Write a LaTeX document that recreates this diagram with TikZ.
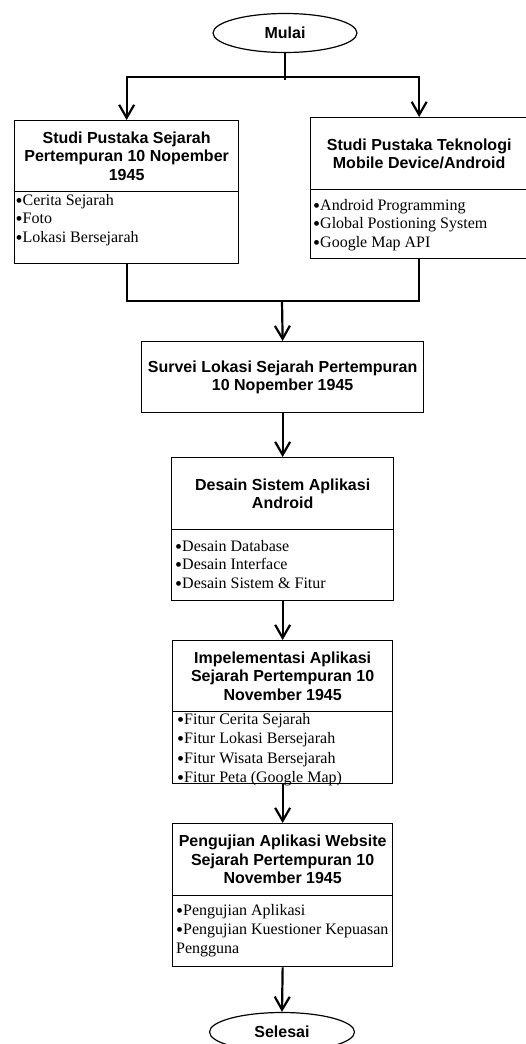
\documentclass[tikz,border=0pt]{standalone}
\usepackage{fontspec}
\usepackage{graphicx}
\setmainfont{Liberation Serif}
\newfontfamily\hdfont{Liberation Sans}
\newcommand\bulmark{\raisebox{-2pt}{\scalebox{1.25}{•}}}
\usetikzlibrary{arrows.meta,shapes.geometric,calc}
\begin{document}
\begin{tikzpicture}[x=1pt,y=-1pt,
  titlebox/.style={draw,line width=1.3pt,anchor=north west,inner sep=0pt,align=center,
    font=\hdfont\bfseries\fontsize{16}{18.4}\selectfont},
  listbox/.style={draw,line width=1.3pt,anchor=north west,inner sep=0pt},
  listtext/.style={anchor=north west,inner sep=0pt,align=left,
    font=\fontsize{16}{18.6}\selectfont},
  listwide/.style={listtext,font=\fontsize{16}{19.1}\selectfont},
  terminal/.style={draw,ellipse,line width=1.2pt,inner sep=0pt,
    font=\hdfont\bfseries\fontsize{16}{18}\selectfont},
  conn/.style={line width=2.2pt},
  arr/.style={conn,-{Straight Barb[length=13pt,width=15pt]}}]
\useasboundingbox (0,0) rectangle (525,1044);

% start
\node[terminal,minimum width=144,minimum height=39] (mulai) at (285,33) {Mulai};

% left column box
\node[titlebox,minimum width=224,minimum height=71] (a1) at (14,120)
  {Studi Pustaka Sejarah\\Pertempuran 10 Nopember\\1945};
\node[listbox,minimum width=224,minimum height=72] (a2) at (14,191) {};
\node[listtext] (a2t) at ($(a2.north west)+(1.5,3)$)
  {\bulmark Cerita Sejarah\\\bulmark Foto\\\bulmark Lokasi Bersejarah};

% right column box
\node[titlebox,minimum width=217,minimum height=72] (b1) at (310,117)
  {Studi Pustaka Teknologi\\Mobile Device/Android};
\node[listbox,minimum width=217,minimum height=69] (b2) at (310,189) {};
\node[listtext] (b2t) at ($(b2.north west)+(3,10)$)
  {\bulmark Android Programming\\\bulmark Global Postioning System\\\bulmark Google Map API};

% survey
\node[titlebox,minimum width=282,minimum height=71] (sv) at (141,341)
  {Survei Lokasi Sejarah Pertempuran\\10 Nopember 1945};

% design
\node[titlebox,minimum width=222,minimum height=72] (d1) at (171,457)
  {Desain Sistem Aplikasi\\Android};
\node[listbox,minimum width=222,minimum height=71] (d2) at (171,529) {};
\node[listtext] (d2t) at ($(d2.north west)+(4,11)$)
  {\bulmark Desain Database\\\bulmark Desain Interface\\\bulmark Desain Sistem \& Fitur};

% implementation
\node[titlebox,minimum width=220,minimum height=71] (i1) at (172,640)
  {Impelementasi Aplikasi\\Sejarah Pertempuran 10\\November 1945};
\node[listbox,minimum width=220,minimum height=72] (i2) at (172,711) {};
\node[listwide] (i2t) at ($(i2.north west)+(5,2.5)$)
  {\bulmark Fitur Cerita Sejarah\\\bulmark Fitur Lokasi Bersejarah\\\bulmark Fitur Wisata Bersejarah\\\bulmark Fitur Peta (Google Map)};

% testing
\node[titlebox,minimum width=220,minimum height=72] (p1) at (172,823)
  {Pengujian Aplikasi Website\\Sejarah Pertempuran 10\\November 1945};
\node[listbox,minimum width=220,minimum height=71] (p2) at (172,895) {};
\node[listwide] (p2t) at ($(p2.north west)+(4,9)$)
  {\bulmark Pengujian Aplikasi\\\bulmark Pengujian Kuestioner Kepuasan\\Pengguna};

% end
\node[terminal,minimum width=145,minimum height=39] (selesai) at (282,1032) {Selesai};

% connectors
\coordinate (j1) at (285,77);
\coordinate (j2) at (282,301);
\draw[conn] (mulai.south) -- ($(j1)+(0,3)$);
\draw[arr] (j1) -| (a1.north);
\draw[arr] (j1) -| (b1.north);
\draw[conn] (a2.south) |- (j2);
\draw[conn] (b2.south) |- (j2);
\draw[arr] (j2) -- (sv.north);
\draw[arr] (sv.south) -- (d1.north);
\draw[arr] (d2.south) -- (i1.north);
\draw[arr] (i2.south) -- (p1.north);
\draw[arr] (p2.south) -- (selesai.north);
\end{tikzpicture}
\end{document}
